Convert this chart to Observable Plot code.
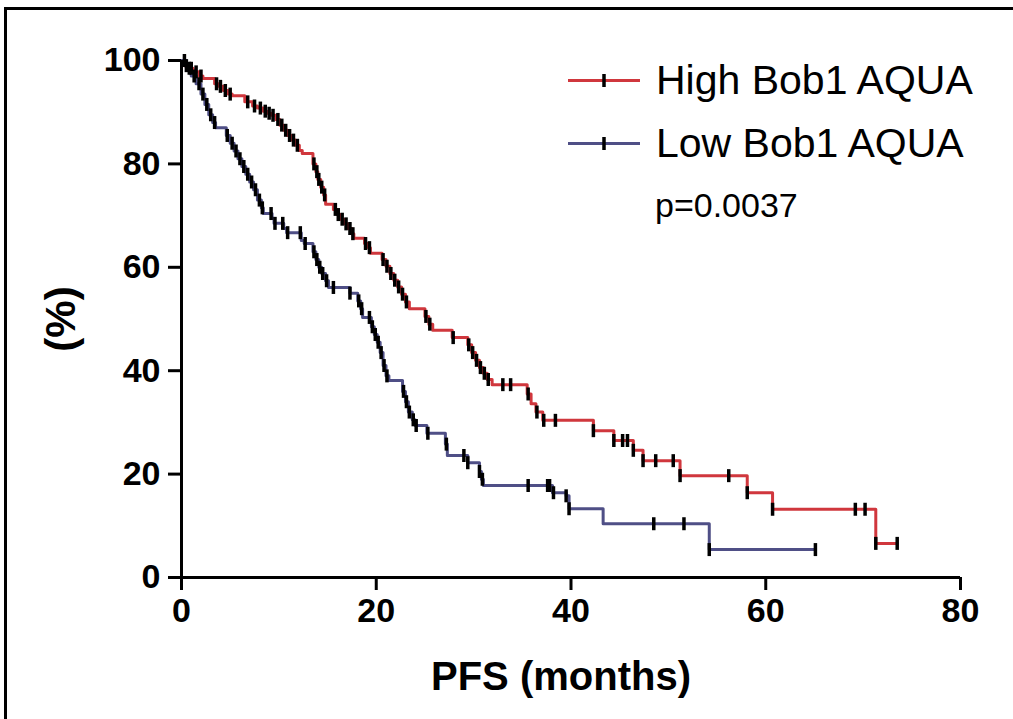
<!DOCTYPE html>
<html><head><meta charset="utf-8">
<script src="https://cdn.jsdelivr.net/npm/d3@7"></script>
<script src="https://cdn.jsdelivr.net/npm/@observablehq/plot@0.6"></script>
<style>
html,body{margin:0;padding:0;background:#fff;font-family:"Liberation Sans",Arial,Helvetica,sans-serif;overflow:hidden;}
#wrap{position:relative;width:1013px;height:719px;overflow:hidden;background:#fff;}
#frameTop{position:absolute;left:4px;top:7px;width:1009px;height:3px;background:#000;}
#frameLeft{position:absolute;left:4px;top:7px;width:3px;height:712px;background:#000;}
#chart{position:absolute;left:0;top:0;}
.lab{position:absolute;color:#000;white-space:nowrap;}
#ylab{left:61px;top:319px;transform:translate(-50%,-50%) rotate(-90deg);font-weight:bold;font-size:42px;}
#xlab{left:561px;top:676px;transform:translate(-50%,-50%);font-weight:bold;font-size:40px;}
.leg{position:absolute;left:568px;display:flex;align-items:center;font-size:41px;}
.leg svg{margin-right:14px;}
#pval{left:655px;top:205px;transform:translateY(-50%);font-size:34px;}
</style>
</head><body>
<div id="wrap">
  <div id="frameTop"></div>
  <div id="frameLeft"></div>
  <div id="chart"></div>
  <div class="lab" id="ylab">(%)</div>
  <div class="lab" id="xlab">PFS (months)</div>
  <div class="lab leg" id="leg1"></div>
  <div class="lab leg" id="leg2"></div>
  <div class="lab" id="pval">p=0.0037</div>
</div>
<script>
// ---- data ----
const seriesNames = ["High Bob1 AQUA", "Low Bob1 AQUA"];
const seriesColors = ["#d0373d", "#4f4f86"];
const pValueText = "p=0.0037";
const xTicks = [0, 20, 40, 60, 80];
const yTicks = [0, 20, 40, 60, 80, 100];

// High group: step times (months) and survival (%) after each step
const highTimes = [0, 0.3, 0.7, 1.2, 1.8, 2.2, 3.4, 3.8, 4.3, 4.8, 5.2, 6.5, 7.3, 7.8, 8.4, 8.8, 9.2, 9.7, 10.1, 10.5, 10.9, 11.3, 11.7, 12.1, 12.4,
  13.5, 13.8, 14.0, 14.3, 14.6, 14.8, 15.6, 16.0, 16.3, 16.7, 17.1, 17.5, 17.7, 18.8, 19.2, 19.4,
  20.6, 21.0, 21.4, 21.8, 22.2, 22.6, 23.0, 23.4, 25.0, 25.4, 25.8, 27.8, 29.4, 29.8, 30.2, 30.6, 31.0, 31.4, 31.9,
  35.5, 35.9, 36.4, 37.1, 42.3, 44.4, 46.4, 47.4, 51.2, 58.1, 60.7, 71.3];
const highSurv = [100, 99.0, 98.5, 97.8, 97.0, 96.5, 95.5, 95.0, 94.2, 93.5, 93.2, 92.0, 91.2, 90.8, 90.2, 89.8, 89.4, 88.6, 87.5, 86.5, 85.5, 84.6, 83.6, 82.6, 82.0,
  80.0, 78.5, 77.0, 75.5, 74.0, 72.2, 71.2, 70.2, 69.3, 68.4, 67.5, 66.5, 65.6, 64.6, 63.8, 62.7,
  61.5, 60.2, 58.8, 57.5, 56.2, 54.8, 53.3, 52.0, 50.5, 49.0, 47.8, 46.4, 45.0, 43.5, 42.0, 40.6, 39.5, 38.3, 37.3,
  35.5, 33.6, 32.0, 30.4, 28.4, 26.5, 24.6, 22.6, 19.7, 16.4, 13.2, 6.6];
const highCensor = [0.5, 1.0, 1.5, 2.0, 3.6, 4.0, 4.5, 5.0, 6.8, 7.5, 8.1, 8.6, 9.0, 9.4, 9.9, 10.3, 10.7, 11.1, 11.5, 11.9,
  13.6, 13.9, 14.1, 14.4, 14.7, 15.8, 16.1, 16.5, 16.9, 17.3, 17.6, 18.9, 19.3, 20.7, 21.1, 21.5, 21.9, 22.3, 22.7, 23.1,
  25.1, 25.5, 27.9, 29.5, 29.9, 30.3, 30.7, 31.1, 31.5, 33.0, 33.8, 35.6, 36.5, 37.2, 38.4, 42.3, 44.4, 45.3, 45.8, 46.4, 47.4,
  48.7, 50.5, 51.2, 56.2, 58.1, 60.7, 69.2, 70.2, 71.3, 73.5];
const highEnd = 73.5;

// Low group
const lowTimes = [0, 0.5, 1.0, 1.5, 2.0, 2.4, 2.8, 3.2, 3.5, 4.6, 5.0, 5.4, 5.8, 6.2, 6.6, 7.0, 7.4, 7.8, 8.2, 8.4,
  9.3, 9.5, 10.5, 10.8, 12.3, 12.6, 13.5, 13.8, 14.1, 14.4, 14.8, 15.1, 17.3, 18.1, 18.4, 18.6,
  19.5, 19.8, 20.1, 20.4, 20.7, 21.0, 21.3, 22.7, 23.0, 23.3, 23.7, 24.0, 25.2, 27.1, 27.3, 29.4,
  30.6, 30.8, 31.0, 38.1, 39.5, 39.8, 43.3, 54.2];
const lowSurv = [100, 98.5, 97.0, 95.5, 93.5, 91.5, 89.5, 88.0, 87.0, 85.5, 84.0, 82.5, 81.0, 79.5, 78.0, 76.5, 75.0, 73.0, 71.5, 70.4,
  69.5, 68.5, 67.5, 66.7, 65.2, 64.6, 63.0, 61.5, 60.0, 58.8, 57.4, 56.1, 55.0, 53.5, 52.0, 50.3,
  48.5, 47.0, 45.5, 43.5, 41.0, 39.0, 38.1, 36.0, 34.0, 32.0, 30.5, 29.4, 27.9, 25.8, 23.6, 22.2,
  20.5, 19.0, 17.8, 16.4, 15.8, 13.3, 10.4, 5.4];
const lowCensor = [0.3, 0.8, 1.3, 1.8, 2.2, 2.6, 3.0, 3.4, 4.7, 5.2, 5.6, 6.0, 6.4, 6.8, 7.2, 7.6, 8.0, 8.3, 9.2, 9.6, 10.4, 10.9,
  12.2, 12.7, 13.6, 13.9, 14.2, 14.5, 14.9, 15.6, 17.3, 18.2, 18.5, 19.3, 19.6, 19.9, 20.2, 20.5, 20.8, 21.1,
  22.8, 23.1, 23.4, 23.8, 24.1, 25.3, 27.2, 29.0, 29.4, 30.6, 30.9, 35.6, 37.6, 37.8, 38.2, 39.5, 39.8, 48.5, 51.6, 54.2, 65.1];
const lowEnd = 65.1;

// ---- build tables ----
function curve(times, surv, end, name) {
  const rows = times.map((t, i) => ({t, s: surv[i], g: name}));
  rows.push({t: end, s: surv[surv.length - 1], g: name});
  return rows;
}
function survAt(times, surv, t) {
  let v = surv[0];
  for (let i = 0; i < times.length; i++) if (times[i] <= t) v = surv[i];
  return v;
}
const lines = [
  ...curve(highTimes, highSurv, highEnd, seriesNames[0]),
  ...curve(lowTimes, lowSurv, lowEnd, seriesNames[1])
];
const censors = [
  ...highCensor.map(t => ({t, s: survAt(highTimes, highSurv, t)})),
  ...lowCensor.map(t => ({t, s: survAt(lowTimes, lowSurv, t)}))
];

const tickSymbol = {draw(ctx, size) { const r = Math.sqrt(size / Math.PI); ctx.moveTo(0, -r); ctx.lineTo(0, r); }};

const plot = Plot.plot({
  width: 1013,
  height: 719,
  marginLeft: 181,
  marginRight: 53,
  marginTop: 60,
  marginBottom: 142,
  style: {fontFamily: '"Liberation Sans", Arial, sans-serif', background: "transparent", color: "#000", overflow: "visible"},
  x: {domain: [0, 80], ticks: xTicks},
  y: {domain: [0, 100], ticks: yTicks},
  color: {domain: seriesNames, range: seriesColors},
  marks: [
    Plot.line(lines, {x: "t", y: "s", z: "g", stroke: "g", curve: "step-after", strokeWidth: 3}),
    Plot.dot(censors, {x: "t", y: "s", symbol: tickSymbol, r: 6.5, stroke: "#000", strokeWidth: 3.5, fill: "none"}),
    Plot.axisX({ticks: xTicks, tickSize: 13, tickPadding: 7, strokeWidth: 3, fontSize: 34, fontWeight: "bold", label: null}),
    Plot.axisY({ticks: yTicks, tickSize: 13, tickPadding: 8, strokeWidth: 3, fontSize: 34, fontWeight: "bold", label: null}),
    Plot.ruleY([0], {strokeWidth: 3, stroke: "#000"}),
    Plot.ruleX([0], {strokeWidth: 3, stroke: "#000"})
  ]
});
document.getElementById("chart").appendChild(plot);

// legend
function swatch(color) {
  return `<svg width="74" height="20" viewBox="0 0 74 20"><line x1="0" y1="10" x2="72" y2="10" stroke="${color}" stroke-width="3"/><line x1="36" y1="3.5" x2="36" y2="16.5" stroke="#000" stroke-width="3.5"/></svg>`;
}
const l1 = document.getElementById("leg1");
l1.innerHTML = swatch(seriesColors[0]) + `<span>${seriesNames[0]}</span>`;
l1.style.top = "80px"; l1.style.transform = "translateY(-50%)";
const l2 = document.getElementById("leg2");
l2.innerHTML = swatch(seriesColors[1]) + `<span>${seriesNames[1]}</span>`;
l2.style.top = "143px"; l2.style.transform = "translateY(-50%)";
document.getElementById("pval").textContent = pValueText;
</script>
</body></html>
